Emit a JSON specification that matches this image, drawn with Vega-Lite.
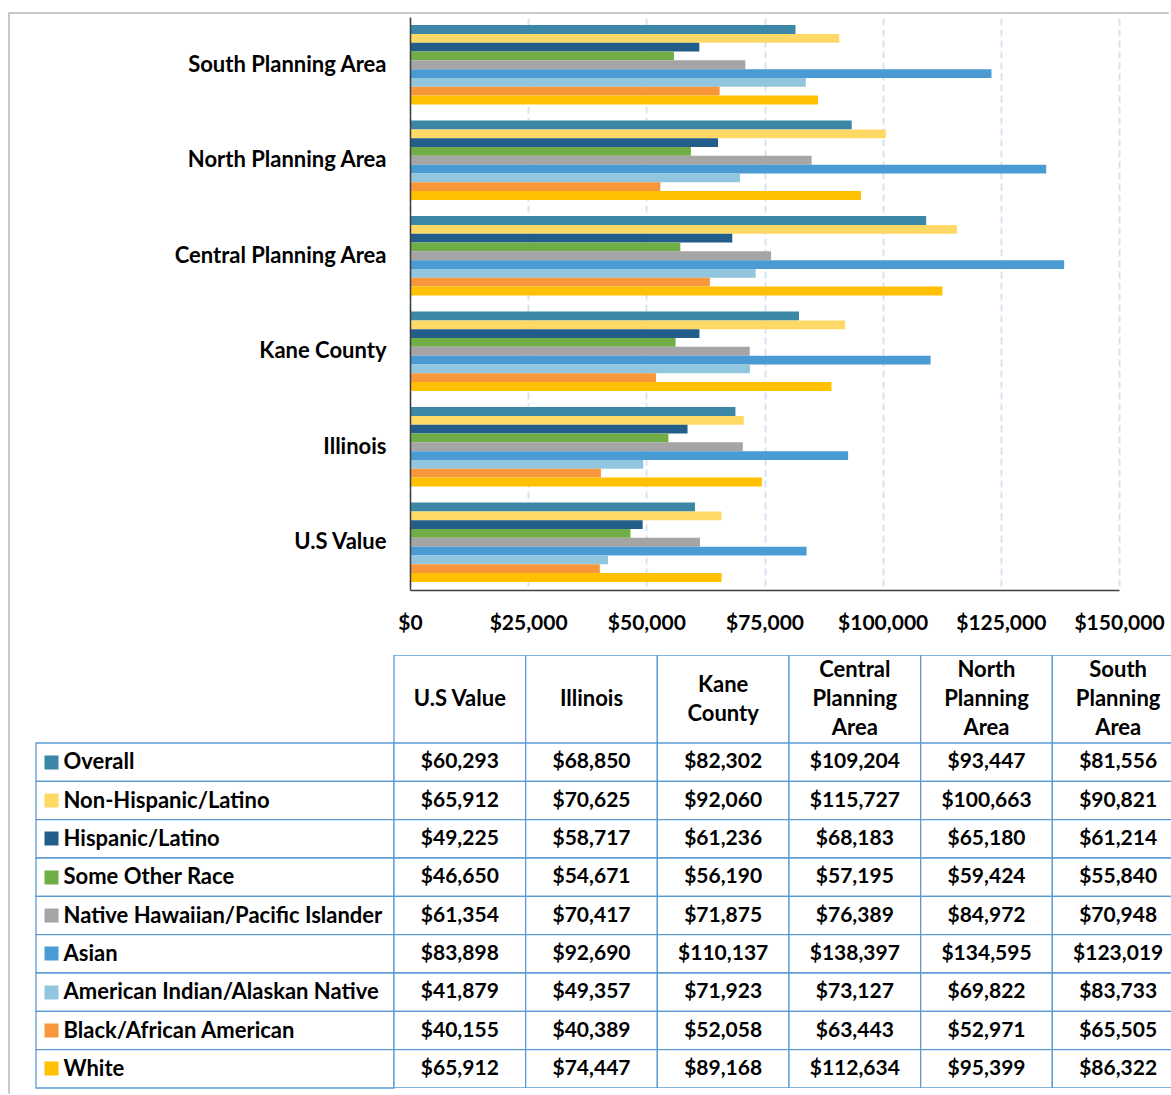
{
  "$schema": "https://vega.github.io/schema/vega-lite/v6.json",
  "padding": {"left": 7, "top": 11, "right": 0, "bottom": 0},
  "background": "white",
  "config": {"view": {"stroke": null}, "font": "Lato"},
  "datasets": {
    "cells": [
      {"area": "U.S Value", "group": "Overall", "value": 60293},
      {"area": "U.S Value", "group": "Non-Hispanic/Latino", "value": 65912},
      {"area": "U.S Value", "group": "Hispanic/Latino", "value": 49225},
      {"area": "U.S Value", "group": "Some Other Race", "value": 46650},
      {"area": "U.S Value", "group": "Native Hawaiian/Pacific Islander", "value": 61354},
      {"area": "U.S Value", "group": "Asian", "value": 83898},
      {"area": "U.S Value", "group": "American Indian/Alaskan Native", "value": 41879},
      {"area": "U.S Value", "group": "Black/African American", "value": 40155},
      {"area": "U.S Value", "group": "White", "value": 65912},
      {"area": "Illinois", "group": "Overall", "value": 68850},
      {"area": "Illinois", "group": "Non-Hispanic/Latino", "value": 70625},
      {"area": "Illinois", "group": "Hispanic/Latino", "value": 58717},
      {"area": "Illinois", "group": "Some Other Race", "value": 54671},
      {"area": "Illinois", "group": "Native Hawaiian/Pacific Islander", "value": 70417},
      {"area": "Illinois", "group": "Asian", "value": 92690},
      {"area": "Illinois", "group": "American Indian/Alaskan Native", "value": 49357},
      {"area": "Illinois", "group": "Black/African American", "value": 40389},
      {"area": "Illinois", "group": "White", "value": 74447},
      {"area": "Kane County", "group": "Overall", "value": 82302},
      {"area": "Kane County", "group": "Non-Hispanic/Latino", "value": 92060},
      {"area": "Kane County", "group": "Hispanic/Latino", "value": 61236},
      {"area": "Kane County", "group": "Some Other Race", "value": 56190},
      {"area": "Kane County", "group": "Native Hawaiian/Pacific Islander", "value": 71875},
      {"area": "Kane County", "group": "Asian", "value": 110137},
      {"area": "Kane County", "group": "American Indian/Alaskan Native", "value": 71923},
      {"area": "Kane County", "group": "Black/African American", "value": 52058},
      {"area": "Kane County", "group": "White", "value": 89168},
      {"area": "Central Planning Area", "group": "Overall", "value": 109204},
      {"area": "Central Planning Area", "group": "Non-Hispanic/Latino", "value": 115727},
      {"area": "Central Planning Area", "group": "Hispanic/Latino", "value": 68183},
      {"area": "Central Planning Area", "group": "Some Other Race", "value": 57195},
      {"area": "Central Planning Area", "group": "Native Hawaiian/Pacific Islander", "value": 76389},
      {"area": "Central Planning Area", "group": "Asian", "value": 138397},
      {"area": "Central Planning Area", "group": "American Indian/Alaskan Native", "value": 73127},
      {"area": "Central Planning Area", "group": "Black/African American", "value": 63443},
      {"area": "Central Planning Area", "group": "White", "value": 112634},
      {"area": "North Planning Area", "group": "Overall", "value": 93447},
      {"area": "North Planning Area", "group": "Non-Hispanic/Latino", "value": 100663},
      {"area": "North Planning Area", "group": "Hispanic/Latino", "value": 65180},
      {"area": "North Planning Area", "group": "Some Other Race", "value": 59424},
      {"area": "North Planning Area", "group": "Native Hawaiian/Pacific Islander", "value": 84972},
      {"area": "North Planning Area", "group": "Asian", "value": 134595},
      {"area": "North Planning Area", "group": "American Indian/Alaskan Native", "value": 69822},
      {"area": "North Planning Area", "group": "Black/African American", "value": 52971},
      {"area": "North Planning Area", "group": "White", "value": 95399},
      {"area": "South Planning Area", "group": "Overall", "value": 81556},
      {"area": "South Planning Area", "group": "Non-Hispanic/Latino", "value": 90821},
      {"area": "South Planning Area", "group": "Hispanic/Latino", "value": 61214},
      {"area": "South Planning Area", "group": "Some Other Race", "value": 55840},
      {"area": "South Planning Area", "group": "Native Hawaiian/Pacific Islander", "value": 70948},
      {"area": "South Planning Area", "group": "Asian", "value": 123019},
      {"area": "South Planning Area", "group": "American Indian/Alaskan Native", "value": 83733},
      {"area": "South Planning Area", "group": "Black/African American", "value": 65505},
      {"area": "South Planning Area", "group": "White", "value": 86322}
    ],
    "headers": [
      {"area": "U.S Value", "label": "U.S Value", "lines": 1},
      {"area": "Illinois", "label": "Illinois", "lines": 1},
      {"area": "Kane County", "label": "Kane\nCounty", "lines": 2},
      {"area": "Central Planning Area", "label": "Central\nPlanning\nArea", "lines": 3},
      {"area": "North Planning Area", "label": "North\nPlanning\nArea", "lines": 3},
      {"area": "South Planning Area", "label": "South\nPlanning\nArea", "lines": 3}
    ]
  },
  "bounds": "flush",
  "spacing": 0,
  "vconcat": [
    {
      "width": 1160, "height": 1,
      "view": {"stroke": "#c8c8c8", "strokeWidth": 1},
      "data": {"values": []},
      "mark": {"type": "point", "opacity": 0}
    },
    {
      "bounds": "flush",
      "spacing": 27,
      "hconcat": [
        {
          "width": 1, "height": 1080,
          "view": {"stroke": "#c8c8c8", "strokeWidth": 1},
          "data": {"values": []},
          "mark": {"type": "point", "opacity": 0}
        },
        {
          "bounds": "flush",
          "spacing": 65,
          "vconcat": [
            {
              "width": 1083, "height": 577,
              "data": {"name": "cells"},
              "mark": {"type": "bar"},
              "encoding": {
                "y": {
                  "field": "area", "type": "nominal",
                  "sort": ["South Planning Area", "North Planning Area", "Central Planning Area", "Kane County", "Illinois", "U.S Value"],
                  "scale": {"range": [4, 577], "paddingInner": 0.17, "paddingOuter": 0.085},
                  "axis": {"title": null, "orient": "left", "offset": -374, "ticks": false, "tickSize": 0, "labelPadding": 24,
                    "labelFont": "Lato", "labelFontSize": 22, "labelFontWeight": "bold", "labelColor": "#000000", "labelLimit": 400,
                    "domainColor": "#3f3f3f", "domainWidth": 1.5, "grid": false, "zindex": 1}
                },
                "yOffset": {
                  "field": "group", "type": "nominal",
                  "sort": ["Overall", "Non-Hispanic/Latino", "Hispanic/Latino", "Some Other Race", "Native Hawaiian/Pacific Islander", "Asian", "American Indian/Alaskan Native", "Black/African American", "White"],
                  "scale": {"paddingInner": 0, "paddingOuter": 0}
                },
                "x": {
                  "field": "value", "type": "quantitative",
                  "scale": {"domain": [0, 150000], "range": [374, 1083], "nice": false},
                  "axis": {"title": null, "values": [0, 25000, 50000, 75000, 100000, 125000, 150000], "format": "$,.0f",
                    "labelFont": "Lato", "labelFontSize": 21, "labelFontWeight": "bold", "labelColor": "#000000",
                    "labelFlush": false, "labelOverlap": false, "ticks": false, "tickSize": 0, "labelPadding": 22,
                    "domainColor": "#3f3f3f", "domainWidth": 1.5,
                    "grid": true, "gridColor": "#d6e4f1", "gridDash": [7, 4], "gridWidth": 2}
                },
                "color": {
                  "field": "group", "type": "nominal",
                  "scale": {
                    "domain": ["Overall", "Non-Hispanic/Latino", "Hispanic/Latino", "Some Other Race", "Native Hawaiian/Pacific Islander", "Asian", "American Indian/Alaskan Native", "Black/African American", "White"],
                    "range": ["#3B87A5", "#FFD966", "#235E8A", "#70AD47", "#A5A5A5", "#4A9BD4", "#92C5DE", "#F8963C", "#FFC000"]
                  },
                  "legend": null
                }
              }
            },
            {
              "width": 1135, "height": 433,
              "resolve": {"scale": {"x": "independent", "y": "independent"}, "axis": {"x": "independent", "y": "independent"}},
              "layer": [
                {
                  "data": {"name": "headers"},
                  "mark": {"type": "rect", "fill": "white", "stroke": "#5B9BD5", "strokeWidth": 1.3, "clip": true},
                  "encoding": {
                    "x": {"field": "area", "type": "nominal",
                      "sort": ["U.S Value", "Illinois", "Kane County", "Central Planning Area", "North Planning Area", "South Planning Area"],
                      "scale": {"range": [358, 1148], "paddingInner": 0, "paddingOuter": 0}, "axis": null}
                  }
                },
                {
                  "data": {"name": "headers"},
                  "mark": {"type": "text", "font": "Lato", "fontSize": 22, "fontWeight": "bold", "color": "#000000", "lineBreak": "\n", "lineHeight": 29, "baseline": "middle", "clip": true},
                  "encoding": {
                    "x": {"field": "area", "type": "nominal",
                      "sort": ["U.S Value", "Illinois", "Kane County", "Central Planning Area", "North Planning Area", "South Planning Area"],
                      "scale": {"range": [358, 1148], "paddingInner": 0, "paddingOuter": 0}, "axis": null},
                    "y": {"field": "lines", "type": "ordinal", "scale": {"type": "point", "domain": [3, 2, 1], "range": [15, 44], "padding": 0}, "axis": null},
                    "text": {"field": "label"}
                  }
                },
                {
                  "data": {"name": "cells"},
                  "transform": [{"filter": "datum.area === 'U.S Value'"}],
                  "mark": {"type": "rect", "fill": "white", "stroke": "#5B9BD5", "strokeWidth": 1.3},
                  "encoding": {
                    "x": {"datum": "label", "type": "nominal", "scale": {"range": [0, 358], "paddingInner": 0, "paddingOuter": 0}, "axis": null},
                    "y": {
                      "field": "group", "type": "nominal",
                      "sort": ["Overall", "Non-Hispanic/Latino", "Hispanic/Latino", "Some Other Race", "Native Hawaiian/Pacific Islander", "Asian", "American Indian/Alaskan Native", "Black/African American", "White"],
                      "scale": {"range": [88, 433], "paddingInner": 0, "paddingOuter": 0},
                      "axis": {
                        "title": null, "orient": "left", "offset": -22, "domain": false, "grid": false,
                        "ticks": true, "tickSize": 14, "tickWidth": 14, "tickOpacity": 1, "bandPosition": 0.5,
                        "tickColor": {
                          "condition": [
                            {"test": "datum.value === 'Overall'", "value": "#3B87A5"},
                            {"test": "datum.value === 'Non-Hispanic/Latino'", "value": "#FFD966"},
                            {"test": "datum.value === 'Hispanic/Latino'", "value": "#235E8A"},
                            {"test": "datum.value === 'Some Other Race'", "value": "#70AD47"},
                            {"test": "datum.value === 'Native Hawaiian/Pacific Islander'", "value": "#A5A5A5"},
                            {"test": "datum.value === 'Asian'", "value": "#4A9BD4"},
                            {"test": "datum.value === 'American Indian/Alaskan Native'", "value": "#92C5DE"},
                            {"test": "datum.value === 'Black/African American'", "value": "#F8963C"}
                          ],
                          "value": "#FFC000"
                        },
                        "labelAlign": "left", "labelBaseline": "middle", "labelPadding": -19,
                        "labelFont": "Lato", "labelFontSize": 22, "labelFontWeight": "bold", "labelColor": "#000000", "labelLimit": 0,
                        "zindex": 2
                      }
                    }
                  }
                },
                {
                  "data": {"name": "cells"},
                  "mark": {"type": "rect", "fill": "white", "stroke": "#5B9BD5", "strokeWidth": 1.3, "clip": true},
                  "encoding": {
                    "x": {"field": "area", "type": "nominal",
                      "sort": ["U.S Value", "Illinois", "Kane County", "Central Planning Area", "North Planning Area", "South Planning Area"],
                      "scale": {"range": [358, 1148], "paddingInner": 0, "paddingOuter": 0}, "axis": null},
                    "y": {"field": "group", "type": "nominal",
                      "sort": ["Overall", "Non-Hispanic/Latino", "Hispanic/Latino", "Some Other Race", "Native Hawaiian/Pacific Islander", "Asian", "American Indian/Alaskan Native", "Black/African American", "White"],
                      "scale": {"range": [88, 433], "paddingInner": 0, "paddingOuter": 0}, "axis": null}
                  }
                },
                {
                  "data": {"name": "cells"},
                  "mark": {"type": "text", "font": "Lato", "fontSize": 21, "fontWeight": "bold", "color": "#000000", "baseline": "middle", "clip": true},
                  "encoding": {
                    "x": {"field": "area", "type": "nominal",
                      "sort": ["U.S Value", "Illinois", "Kane County", "Central Planning Area", "North Planning Area", "South Planning Area"],
                      "scale": {"range": [358, 1148], "paddingInner": 0, "paddingOuter": 0}, "axis": null},
                    "y": {"field": "group", "type": "nominal",
                      "sort": ["Overall", "Non-Hispanic/Latino", "Hispanic/Latino", "Some Other Race", "Native Hawaiian/Pacific Islander", "Asian", "American Indian/Alaskan Native", "Black/African American", "White"],
                      "scale": {"range": [88, 433], "paddingInner": 0, "paddingOuter": 0}, "axis": null},
                    "text": {"field": "value", "type": "quantitative", "format": "$,.0f"}
                  }
                }
              ]
            }
          ]
        }
      ]
    }
  ]
}
